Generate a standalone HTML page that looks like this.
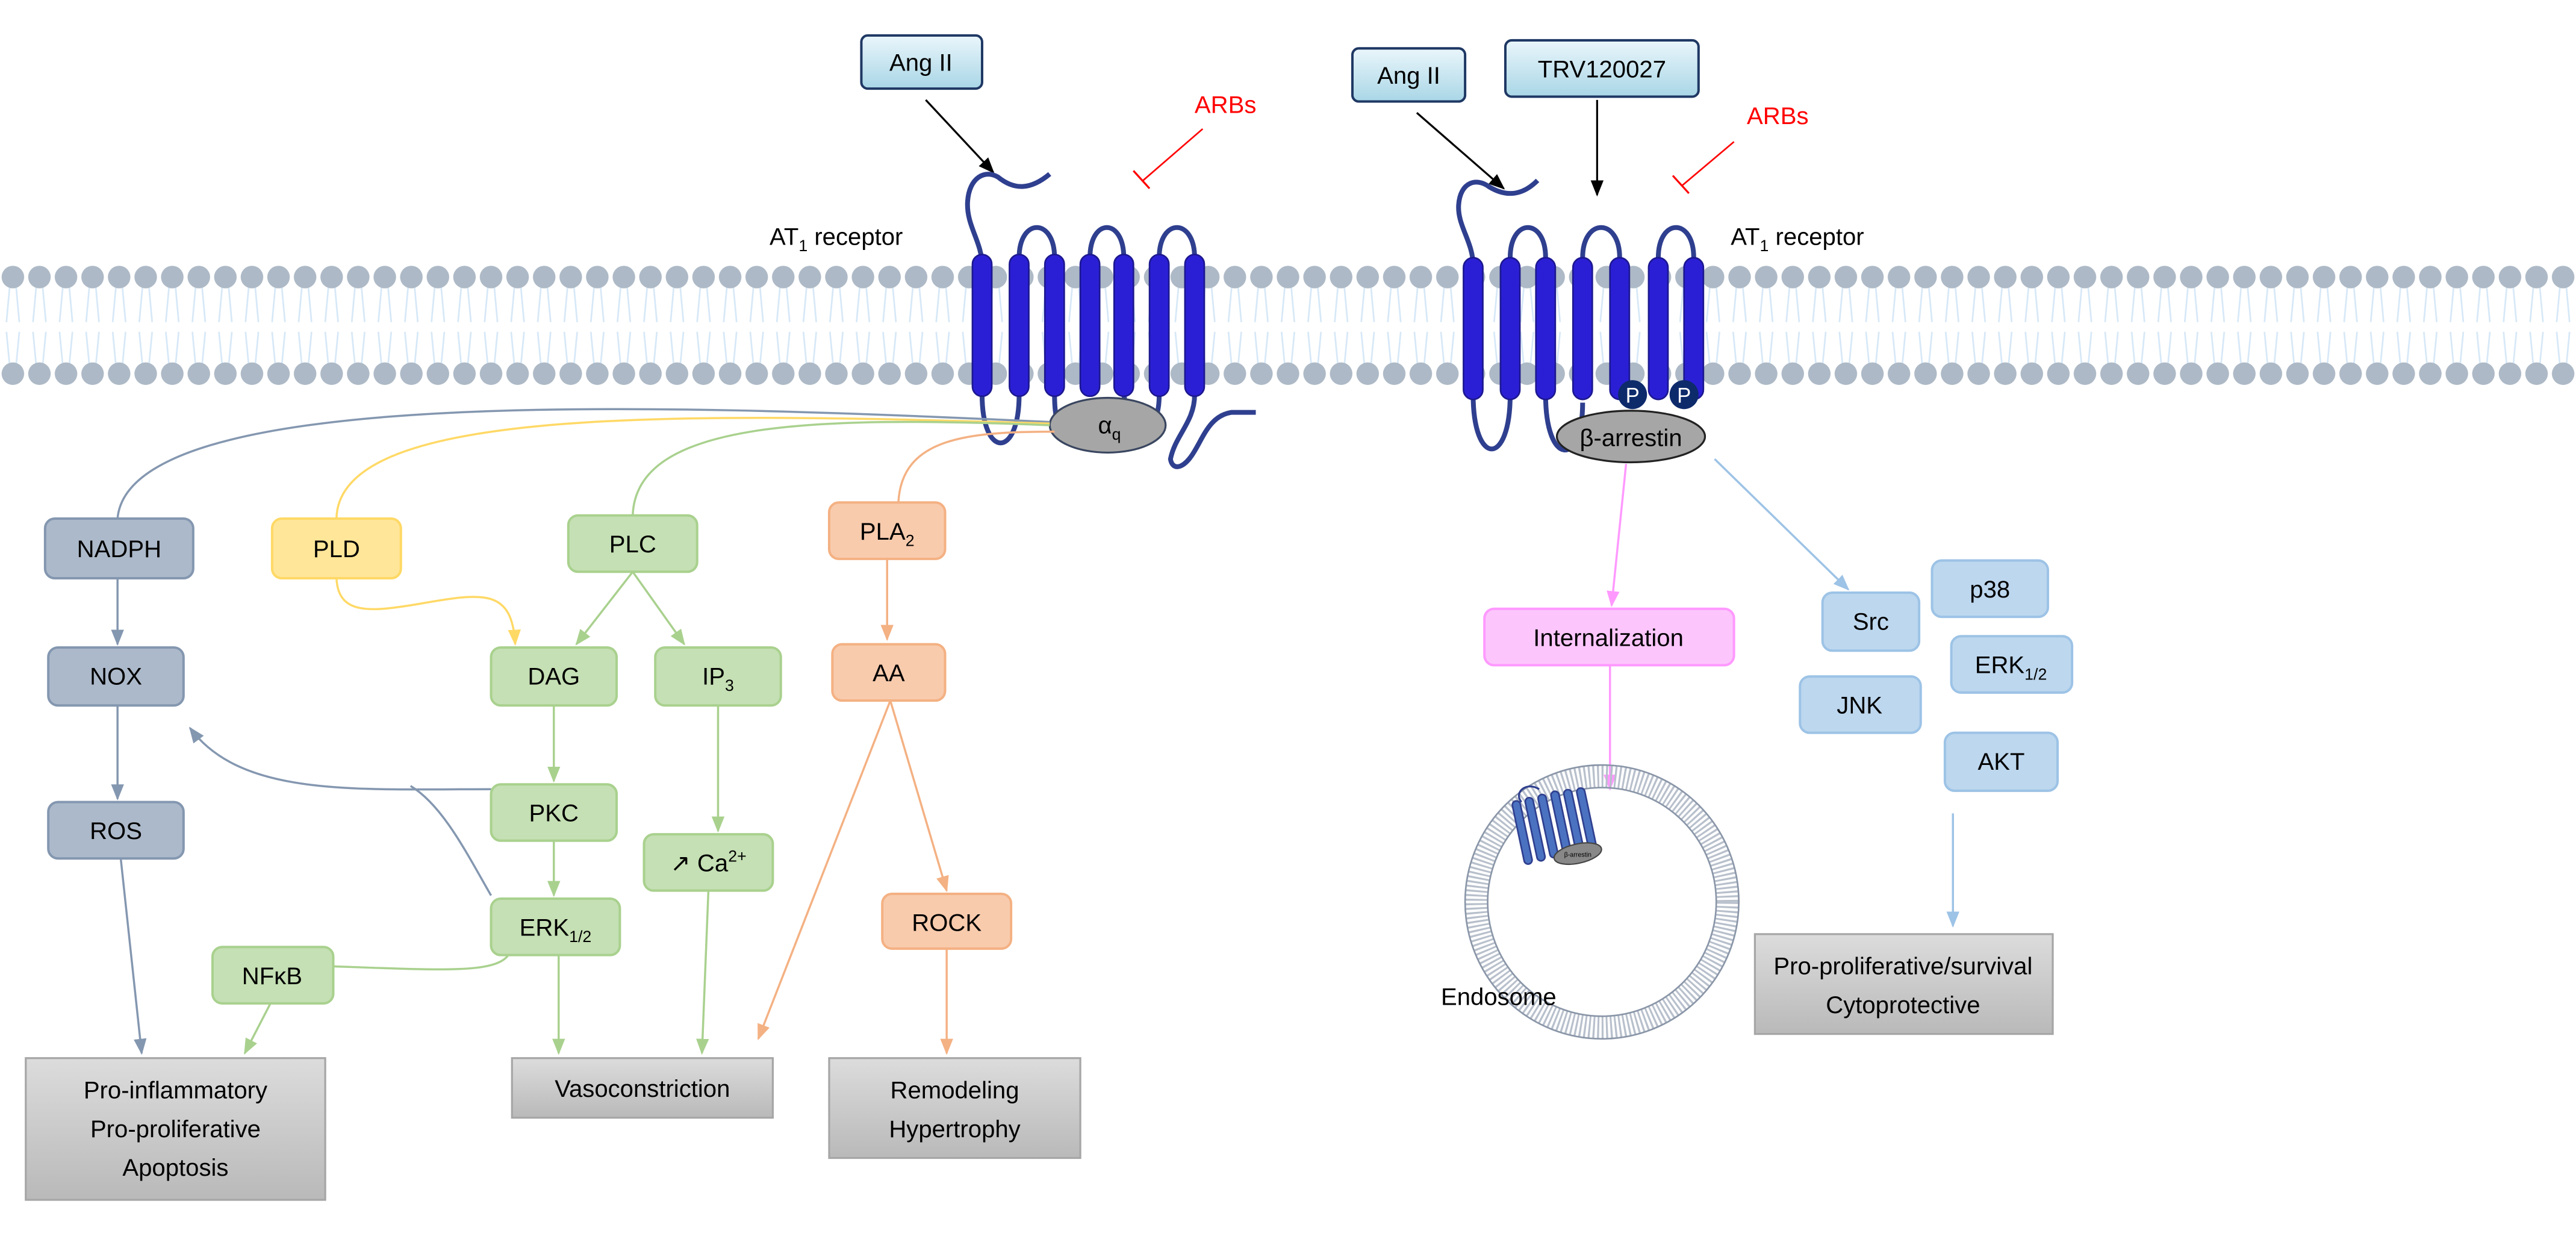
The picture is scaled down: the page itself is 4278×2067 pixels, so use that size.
<!DOCTYPE html>
<html><head><meta charset="utf-8"><style>
html,body{margin:0;padding:0;background:#fff;}
svg{display:block;}
text{font-family:"Liberation Sans",sans-serif;}
</style></head><body>
<svg width="4278" height="2067" viewBox="0 0 1600 773" xmlns="http://www.w3.org/2000/svg">
<defs>
<pattern id="heads" x="0" y="0" width="16.5" height="773" patternUnits="userSpaceOnUse">
<line x1="6" y1="178" x2="4" y2="200" stroke="#d6e8f7" stroke-width="1"/>
<line x1="10" y1="178" x2="12" y2="200" stroke="#d6e8f7" stroke-width="1"/>
<line x1="4" y1="206" x2="6" y2="227" stroke="#d6e8f7" stroke-width="1"/>
<line x1="12" y1="206" x2="10" y2="227" stroke="#d6e8f7" stroke-width="1"/>
<circle cx="8" cy="172" r="7" fill="#adb9c6"/>
<circle cx="8" cy="232" r="7" fill="#adb9c6"/>
</pattern>
<linearGradient id="gAng" x1="0" y1="0" x2="0" y2="1"><stop offset="0" stop-color="#eaf6fb"/><stop offset="1" stop-color="#a9d6e6"/></linearGradient>
<linearGradient id="gOut" x1="0" y1="0" x2="0" y2="1"><stop offset="0" stop-color="#dcdcdc"/><stop offset="1" stop-color="#b9b9b9"/></linearGradient>
<marker id="aK" markerWidth="10" markerHeight="10" refX="9" refY="5" orient="auto" markerUnits="userSpaceOnUse"><path d="M0,1 L10,5 L0,9 Z" fill="#000"/></marker>
<marker id="aG" markerWidth="10" markerHeight="10" refX="9" refY="5" orient="auto" markerUnits="userSpaceOnUse"><path d="M0,1 L10,5 L0,9 Z" fill="#8497b0"/></marker>
<marker id="aGr" markerWidth="10" markerHeight="10" refX="9" refY="5" orient="auto" markerUnits="userSpaceOnUse"><path d="M0,1 L10,5 L0,9 Z" fill="#a9d18e"/></marker>
<marker id="aY" markerWidth="10" markerHeight="10" refX="9" refY="5" orient="auto" markerUnits="userSpaceOnUse"><path d="M0,1 L10,5 L0,9 Z" fill="#ffd966"/></marker>
<marker id="aO" markerWidth="10" markerHeight="10" refX="9" refY="5" orient="auto" markerUnits="userSpaceOnUse"><path d="M0,1 L10,5 L0,9 Z" fill="#f4b183"/></marker>
<marker id="aP" markerWidth="10" markerHeight="10" refX="9" refY="5" orient="auto" markerUnits="userSpaceOnUse"><path d="M0,1 L10,5 L0,9 Z" fill="#ff99ff"/></marker>
<marker id="aB" markerWidth="10" markerHeight="10" refX="9" refY="5" orient="auto" markerUnits="userSpaceOnUse"><path d="M0,1 L10,5 L0,9 Z" fill="#9dc3e6"/></marker>
</defs>

<!-- membrane -->
<rect x="0" y="160" width="1600" height="85" fill="url(#heads)"/>

<!-- ligand boxes -->
<rect x="535" y="22" width="75" height="33" rx="4" fill="url(#gAng)" stroke="#1f3864" stroke-width="1.5"/>
<text x="572" y="44" font-size="15" text-anchor="middle">Ang II</text>
<rect x="840" y="30" width="70" height="33" rx="4" fill="url(#gAng)" stroke="#1f3864" stroke-width="1.5"/>
<text x="875" y="52" font-size="15" text-anchor="middle">Ang II</text>
<rect x="935" y="25" width="120" height="35" rx="4" fill="url(#gAng)" stroke="#1f3864" stroke-width="1.5"/>
<text x="995" y="48" font-size="15" text-anchor="middle">TRV120027</text>
<text x="742" y="70" font-size="15" fill="#ff0000">ARBs</text>
<text x="1085" y="77" font-size="15" fill="#ff0000">ARBs</text>
<line x1="747" y1="80" x2="710" y2="112" stroke="#ff0000" stroke-width="1"/>
<line x1="704" y1="106" x2="714" y2="117" stroke="#ff0000" stroke-width="1.2"/>
<line x1="1077" y1="88" x2="1045" y2="115" stroke="#ff0000" stroke-width="1"/>
<line x1="1039" y1="109" x2="1049" y2="120" stroke="#ff0000" stroke-width="1.2"/>
<line x1="575" y1="62" x2="617" y2="107" stroke="#000" stroke-width="1.2" marker-end="url(#aK)"/>
<line x1="880" y1="70" x2="934" y2="117" stroke="#000" stroke-width="1.2" marker-end="url(#aK)"/>
<line x1="992" y1="62" x2="992" y2="121" stroke="#000" stroke-width="1.2" marker-end="url(#aK)"/>

<text x="478" y="152" font-size="15">AT<tspan font-size="10" dy="4">1</tspan><tspan dy="-4"> receptor</tspan></text>
<text x="1075" y="152" font-size="15">AT<tspan font-size="10" dy="4">1</tspan><tspan dy="-4"> receptor</tspan></text>

<!-- left receptor loops -->
<g fill="none" stroke="#2f3f8f" stroke-width="3">
<path d="M610,165 C610,150 600,140 601,125 C602,110 612,105 620,110 C630,118 640,118 652,108"/>
<path d="M633,160 C633,135 655,135 655,160"/>
<path d="M677,160 C677,135 698,135 698,160"/>
<path d="M720,160 C720,135 742,135 742,160"/>
<path d="M610,245 C610,285 633,285 633,245"/>
<path d="M655,245 C655,270 662,270 667,258"/>
<path d="M698,245 L700,255"/>
<path d="M720,245 C720,262 714,265 712,268"/>
<path d="M742,245 C742,262 730,270 727,285 C728,292 735,292 742,280 C748,270 752,258 765,256 L780,256"/>
</g>
<g fill="#2b1fd6" stroke="#1c1890" stroke-width="1">
<rect x="604" y="158" width="12" height="88" rx="6"/>
<rect x="627" y="158" width="12" height="88" rx="6"/>
<rect x="649" y="158" width="12" height="88" rx="6"/>
<rect x="671" y="158" width="12" height="88" rx="6"/>
<rect x="692" y="158" width="12" height="88" rx="6"/>
<rect x="714" y="158" width="12" height="88" rx="6"/>
<rect x="736" y="158" width="12" height="88" rx="6"/>
</g>
<ellipse cx="688" cy="264" rx="36" ry="17" fill="#a6a6a6" stroke="#3a4660" stroke-width="1.2"/>
<text x="682" y="269" font-size="15">α<tspan font-size="10" dy="4">q</tspan></text>

<!-- right receptor -->
<g fill="none" stroke="#2f3f8f" stroke-width="3">
<path d="M915,165 C915,150 905,140 906,127 C907,113 917,110 925,116 C935,122 945,122 955,112"/>
<path d="M938,160 C938,135 960,135 960,160"/>
<path d="M983,160 C983,135 1006,135 1006,160"/>
<path d="M1030,160 C1030,135 1052,135 1052,160"/>
<path d="M915,245 C915,290 938,290 938,245"/>
<path d="M960,245 C960,290 983,290 983,250"/>
</g>
<g fill="#2b1fd6" stroke="#1c1890" stroke-width="1">
<rect x="909" y="160" width="12" height="88" rx="6"/>
<rect x="932" y="160" width="12" height="88" rx="6"/>
<rect x="954" y="160" width="12" height="88" rx="6"/>
<rect x="977" y="160" width="12" height="88" rx="6"/>
<rect x="1000" y="160" width="12" height="88" rx="6"/>
<rect x="1024" y="160" width="12" height="88" rx="6"/>
<rect x="1046" y="160" width="12" height="88" rx="6"/>
</g>
<ellipse cx="1013" cy="271" rx="46" ry="16" fill="#a6a6a6" stroke="#222" stroke-width="1.2"/>
<circle cx="1014" cy="245" r="9" fill="#0d2a6b"/><text x="1014" y="250" font-size="13" fill="#fff" text-anchor="middle">P</text>
<circle cx="1046" cy="245" r="9" fill="#0d2a6b"/><text x="1046" y="250" font-size="13" fill="#fff" text-anchor="middle">P</text>
<text x="1013" y="277" font-size="15" text-anchor="middle">β-arrestin</text>

<!-- connectors left -->
<g fill="none" stroke-width="1.3">
<path d="M652,262 C400,250 80,240 73,322" stroke="#8497b0"/>
<path d="M652,263 C400,255 210,255 209,322" stroke="#ffd966"/>
<path d="M652,264 C500,258 395,262 393,320" stroke="#a9d18e"/>
<path d="M655,268 C600,268 560,272 558,312" stroke="#f4b183"/>
<path d="M73,359 L73,400" stroke="#8497b0" marker-end="url(#aG)"/>
<path d="M73,438 L73,496" stroke="#8497b0" marker-end="url(#aG)"/>
<path d="M75,533 L88,654" stroke="#8497b0" marker-end="url(#aG)"/>
<path d="M209,359 C210,382 230,380 260,375 C300,368 318,365 320,400" stroke="#ffd966" marker-end="url(#aY)"/>
<path d="M393,355 L358,400" stroke="#a9d18e" marker-end="url(#aGr)"/>
<path d="M393,355 L425,400" stroke="#a9d18e" marker-end="url(#aGr)"/>
<path d="M344,438 L344,485" stroke="#a9d18e" marker-end="url(#aGr)"/>
<path d="M344,522 L344,556" stroke="#a9d18e" marker-end="url(#aGr)"/>
<path d="M446,438 L446,516" stroke="#a9d18e" marker-end="url(#aGr)"/>
<path d="M440,553 L436,654" stroke="#a9d18e" marker-end="url(#aGr)"/>
<path d="M347,593 L347,654" stroke="#a9d18e" marker-end="url(#aGr)"/>
<path d="M318,585 C318,605 290,603 207,600" stroke="#a9d18e"/>
<path d="M168,623 L152,654" stroke="#a9d18e" marker-end="url(#aGr)"/>
<path d="M305,490 C220,490 150,495 118,452" stroke="#8497b0" marker-end="url(#aG)"/>
<path d="M305,556 C290,530 275,500 255,488" stroke="#8497b0"/>
<path d="M551,347 L551,397" stroke="#f4b183" marker-end="url(#aO)"/>
<path d="M553,435 L588,553" stroke="#f4b183" marker-end="url(#aO)"/>
<path d="M553,435 L471,645" stroke="#f4b183" marker-end="url(#aO)"/>
<path d="M588,589 L588,654" stroke="#f4b183" marker-end="url(#aO)"/>
<path d="M1010,288 L1001,376" stroke="#ff99ff" marker-end="url(#aP)"/>
<path d="M1000,413 L1000,490" stroke="#ff99ff" marker-end="url(#aP)"/>
<path d="M1065,285 L1148,366" stroke="#9dc3e6" marker-end="url(#aB)"/>
<path d="M1213,505 L1213,575" stroke="#9dc3e6" marker-end="url(#aB)"/>
</g>

<!-- boxes -->
<g font-size="15" text-anchor="middle">
<g fill="#acb9ca" stroke="#8497b0" stroke-width="1.5">
<rect x="28" y="322" width="92" height="37" rx="6"/>
<rect x="30" y="402" width="84" height="36" rx="6"/>
<rect x="30" y="498" width="84" height="35" rx="6"/>
</g>
<text x="74" y="346">NADPH</text><text x="72" y="425">NOX</text><text x="72" y="521">ROS</text>
<rect x="169" y="322" width="80" height="37" rx="6" fill="#ffe699" stroke="#ffd966" stroke-width="1.5"/>
<text x="209" y="346">PLD</text>
<g fill="#c5e0b4" stroke="#a9d18e" stroke-width="1.5">
<rect x="353" y="320" width="80" height="35" rx="6"/>
<rect x="305" y="402" width="78" height="36" rx="6"/>
<rect x="407" y="402" width="78" height="36" rx="6"/>
<rect x="305" y="487" width="78" height="35" rx="6"/>
<rect x="305" y="558" width="80" height="35" rx="6"/>
<rect x="400" y="518" width="80" height="35" rx="6"/>
<rect x="132" y="588" width="75" height="35" rx="6"/>
</g>
<text x="393" y="343">PLC</text><text x="344" y="425">DAG</text>
<text x="446" y="425">IP<tspan font-size="10" dy="4">3</tspan></text>
<text x="344" y="510">PKC</text>
<text x="345" y="581">ERK<tspan font-size="10" dy="4">1/2</tspan></text>
<text x="440" y="541">↗ Ca<tspan font-size="10" dy="-6">2+</tspan></text>
<text x="169" y="611">NFκB</text>
<g fill="#f8cbad" stroke="#f4b183" stroke-width="1.5">
<rect x="515" y="312" width="72" height="35" rx="6"/>
<rect x="517" y="400" width="70" height="35" rx="6"/>
<rect x="548" y="555" width="80" height="34" rx="6"/>
</g>
<text x="551" y="335">PLA<tspan font-size="10" dy="4">2</tspan></text>
<text x="552" y="423">AA</text><text x="588" y="578">ROCK</text>
<rect x="922" y="378" width="155" height="35" rx="6" fill="#fcc6fc" stroke="#ff99ff" stroke-width="1.5"/>
<text x="999" y="401">Internalization</text>
<g fill="#bdd7ee" stroke="#9dc3e6" stroke-width="1.5">
<rect x="1132" y="368" width="60" height="36" rx="6"/>
<rect x="1200" y="348" width="72" height="35" rx="6"/>
<rect x="1118" y="420" width="75" height="35" rx="6"/>
<rect x="1212" y="395" width="75" height="35" rx="6"/>
<rect x="1208" y="455" width="70" height="36" rx="6"/>
</g>
<text x="1162" y="391">Src</text><text x="1236" y="371">p38</text><text x="1155" y="443">JNK</text>
<text x="1249" y="418">ERK<tspan font-size="10" dy="4">1/2</tspan></text>
<text x="1243" y="478">AKT</text>
<g fill="url(#gOut)" stroke="#a6a6a6" stroke-width="1.2">
<rect x="16" y="657" width="186" height="88"/>
<rect x="318" y="657" width="162" height="37"/>
<rect x="515" y="657" width="156" height="62"/>
<rect x="1090" y="580" width="185" height="62"/>
</g>
<text x="109" y="682">Pro-inflammatory</text>
<text x="109" y="706">Pro-proliferative</text>
<text x="109" y="730">Apoptosis</text>
<text x="399" y="681">Vasoconstriction</text>
<text x="593" y="682">Remodeling</text>
<text x="593" y="706">Hypertrophy</text>
<text x="1182" y="605">Pro-proliferative/survival</text>
<text x="1182" y="629">Cytoprotective</text>
</g>

<!-- endosome -->
<circle cx="995" cy="560" r="78" fill="none" stroke="#b8c0cc" stroke-width="14" stroke-dasharray="1.2 1.5"/>
<circle cx="995" cy="560" r="85" fill="none" stroke="#8a96a8" stroke-width="1"/>
<circle cx="995" cy="560" r="71" fill="none" stroke="#8a96a8" stroke-width="1"/>
<g fill="#4a72c0" stroke="#2f3f8f" stroke-width="1">
<rect x="943" y="497" width="5" height="40" rx="2.5" transform="rotate(-12 945 517)"/>
<rect x="951" y="495" width="5" height="40" rx="2.5" transform="rotate(-12 953 515)"/>
<rect x="959" y="493" width="5" height="40" rx="2.5" transform="rotate(-12 961 513)"/>
<rect x="967" y="491" width="5" height="40" rx="2.5" transform="rotate(-12 969 511)"/>
<rect x="975" y="490" width="5" height="40" rx="2.5" transform="rotate(-12 977 510)"/>
<rect x="983" y="489" width="5" height="40" rx="2.5" transform="rotate(-12 985 509)"/>
</g>
<path d="M945,498 C940,492 948,485 956,490" fill="none" stroke="#2f3f8f" stroke-width="1.2"/>
<ellipse cx="980" cy="530" rx="15" ry="6" fill="#888" stroke="#444" stroke-width="0.8" transform="rotate(-12 980 530)"/>
<text x="980" y="532" font-size="4" text-anchor="middle">β-arrestin</text>
<text x="895" y="624" font-size="15">Endosome</text>
</svg>
</body></html>
